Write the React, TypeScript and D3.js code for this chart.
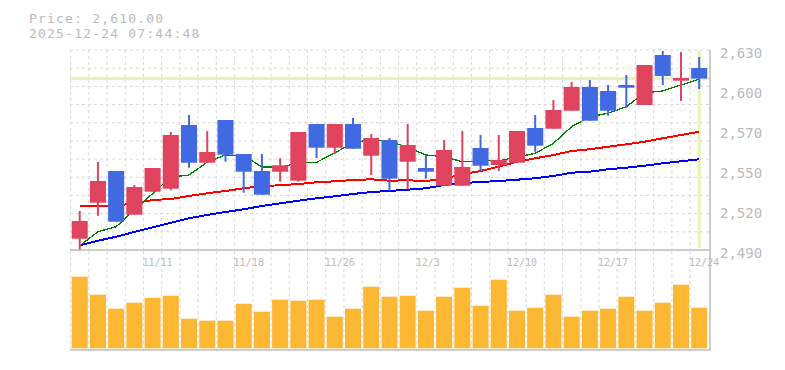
import React from "react";
import * as d3 from "d3";

const dates = [
  "11/5", "11/6", "11/7", "11/10", "11/11", "11/12", "11/13", "11/14", "11/17", "11/18",
  "11/19", "11/20", "11/21", "11/25", "11/26", "11/27", "11/28", "12/1", "12/2", "12/3",
  "12/4", "12/5", "12/8", "12/9", "12/10", "12/11", "12/12", "12/15", "12/16", "12/17",
  "12/18", "12/19", "12/22", "12/23", "12/24",
];
const opens = [
  2497.9, 2523.1, 2545.3, 2514.7, 2530.8, 2532.9, 2577.5, 2551.1, 2581.0, 2557.2,
  2545.3, 2544.8, 2538.5, 2578.2, 2561.6, 2578.2, 2556.0, 2567.0, 2551.8, 2547.4,
  2535.0, 2535.0, 2561.4, 2549.5, 2551.1, 2575.4, 2574.9, 2587.5, 2604.1, 2601.3,
  2605.5, 2591.5, 2626.5, 2608.5, 2617.4,
];
const highs = [
  2517.3, 2551.6, 2545.3, 2535.5, 2547.4, 2572.6, 2584.5, 2573.3, 2581.0, 2557.2,
  2557.2, 2554.2, 2572.6, 2578.2, 2578.2, 2582.4, 2571.2, 2568.4, 2578.2, 2556.3,
  2567.0, 2573.3, 2570.5, 2570.5, 2573.3, 2584.5, 2595.0, 2607.6, 2609.0, 2605.5,
  2612.5, 2619.5, 2629.3, 2628.6, 2625.1,
];
const lows = [
  2489.5, 2514.0, 2509.8, 2514.7, 2530.8, 2531.8, 2547.6, 2551.1, 2551.8, 2530.1,
  2528.7, 2537.8, 2537.8, 2554.4, 2557.0, 2560.9, 2542.5, 2531.5, 2532.5, 2539.9,
  2535.0, 2535.0, 2545.3, 2545.3, 2551.1, 2558.8, 2574.9, 2587.5, 2580.5, 2584.0,
  2589.6, 2591.5, 2605.5, 2594.3, 2602.7,
];
const closes = [
  2510.3, 2538.3, 2509.8, 2534.1, 2547.4, 2570.5, 2551.1, 2558.6, 2556.7, 2544.8,
  2528.7, 2549.3, 2572.6, 2561.6, 2578.2, 2560.9, 2568.4, 2539.9, 2563.5, 2544.8,
  2560.0, 2548.1, 2549.0, 2553.0, 2573.3, 2563.0, 2588.0, 2604.1, 2580.5, 2587.5,
  2603.6, 2619.5, 2611.8, 2610.4, 2610.0,
];
const volumes = [
  716, 536, 396, 456, 506, 526, 296, 276, 276, 446,
  366, 486, 476, 486, 316, 396, 616, 516, 526, 376,
  516, 606, 426, 686, 376, 406, 536, 316, 376, 396,
  516, 376, 456, 636, 406,
];
const ma5 = [
  2493.0, 2502.8, 2506.3, 2518.0, 2529.5, 2541.0, 2542.5, 2551.5, 2556.5, 2556.0,
  2548.2, 2547.8, 2551.0, 2551.4, 2558.0, 2565.0, 2567.5, 2566.0, 2562.0, 2556.5,
  2555.3, 2551.8, 2552.5, 2552.5, 2555.0, 2557.7, 2564.7, 2576.3, 2583.3, 2585.7,
  2590.3, 2600.1, 2601.3, 2605.5, 2609.5,
];
const ma25 = [
  2520.8, 2520.8, 2521.0, 2522.7, 2525.0, 2525.7, 2527.8, 2529.7, 2531.3, 2533.2,
  2534.8, 2535.3, 2536.2, 2537.4, 2538.1, 2539.0, 2539.5, 2538.5, 2538.8, 2538.3,
  2540.0, 2543.0, 2545.3, 2548.3, 2551.8, 2554.2, 2556.5, 2559.3, 2560.5, 2562.3,
  2564.0, 2565.8, 2568.2, 2570.5, 2572.8,
];
const ma75 = [
  2493.3, 2496.5, 2499.3, 2502.6, 2505.9, 2509.1, 2512.2, 2514.5, 2516.6, 2518.5,
  2520.8, 2522.7, 2524.5, 2526.2, 2527.6, 2529.2, 2530.6, 2531.3, 2532.2, 2533.2,
  2535.5, 2536.8, 2537.6, 2538.3, 2539.2, 2540.2, 2541.8, 2544.1, 2544.8, 2546.5,
  2547.6, 2549.0, 2550.7, 2552.1, 2553.5,
];
const labelEvery = 5;
const labelOffset = 4;
const priceMin = 2490;
const priceMax = 2630;
const priceTickStep = 28;
const cursorPrice = 2610;
const titleLines = ["Price: 2,610.00", "2025-12-24 07:44:48"];

const W = 785;
const H = 370;
const L = 70;
const R = 710;
const PT = 50;
const PB = 250;
const VT = 251;
const VB = 350;

const UP = "#e0435e";
const DOWN = "#4169e1";
const GRID = "#d9d9d9";
const AXIS = "#bdbdbd";
const TEXT = "#bbbbbb";
const CURSOR = "#e4f4b2";
const MONO = "'DejaVu Sans Mono', 'Liberation Mono', monospace";

export default function App() {
  const idx = d3.range(dates.length);
  const x = d3.scaleBand<number>().domain(idx).range([70.6, 708.3]).padding(0);
  const bw = x.bandwidth();
  const cx = (i: number) => (x(i) as number) + bw / 2;
  const body = bw * 0.88;
  const y = d3.scaleLinear().domain([priceMin, priceMax]).range([PB, PT]);
  const yv = d3.scaleLinear().domain([0, 800]).range([VB - 1.7, VB - 81.7]);

  const gridVals = d3.range(0, 12).map((k) => priceMin + (k * (priceMax - priceMin)) / 11);
  const labelVals = d3.range(priceMin, priceMax + 1, priceTickStep);
  const fmt = d3.format(",");

  const line = (arr: number[]) =>
    d3
      .line<number>()
      .x((_, i) => cx(i))
      .y((v) => y(v))(arr) as string;

  return (
    <svg width={W} height={H} style={{ display: "block", position: "absolute", left: 0, top: 0 }}>
      <rect width={W} height={H} fill="#fff" />
      {/* title */}
      {titleLines.map((t, i) => (
        <text
          key={i}
          x={29}
          y={22.8 + i * 15.4}
          fontFamily={MONO}
          fontSize={13}
          letterSpacing={1.2}
          fill={TEXT}
        >
          {t}
        </text>
      ))}
      {/* horizontal grid */}
      {gridVals.slice(1).map((v, i) => (
        <line key={"h" + i} x1={L} x2={R} y1={y(v)} y2={y(v)} stroke={GRID} strokeDasharray="3,3" />
      ))}
      {/* vertical grid, price and volume */}
      {idx.map((i) => (
        <g key={"v" + i}>
          <line x1={x(i)} x2={x(i)} y1={PT} y2={PB} stroke={GRID} strokeDasharray="3,3" />
          <line x1={x(i)} x2={x(i)} y1={VT} y2={VB} stroke={GRID} strokeDasharray="3,3" />
        </g>
      ))}
      {/* cursor */}
      <line x1={L} x2={R} y1={y(cursorPrice)} y2={y(cursorPrice)} stroke={CURSOR} strokeWidth={3} />
      <line x1={cx(dates.length - 1)} x2={cx(dates.length - 1)} y1={PT + 1} y2={PB - 2} stroke={CURSOR} strokeWidth={3} />
      {/* moving averages */}
      <path d={line(ma75)} fill="none" stroke="#0000ff" strokeWidth={2} shapeRendering="crispEdges" />
      <path d={line(ma25)} fill="none" stroke="#ff0000" strokeWidth={2} shapeRendering="crispEdges" />
      <path d={line(ma5)} fill="none" stroke="#008000" strokeWidth={1.3} shapeRendering="crispEdges" />
      {/* candles */}
      {idx.map((i) => {
        const o = opens[i];
        const c = closes[i];
        const col = c >= o ? UP : DOWN;
        const top = y(Math.max(o, c));
        const bot = y(Math.min(o, c));
        return (
          <g key={"c" + i}>
            <line x1={cx(i)} x2={cx(i)} y1={y(highs[i])} y2={y(lows[i])} stroke={col} strokeWidth={2} />
            <rect x={cx(i) - body / 2} y={top} width={body} height={Math.max(2, bot - top)} fill={col} />
          </g>
        );
      })}
      {/* volume bars */}
      {idx.map((i) => (
        <rect
          key={"vb" + i}
          x={cx(i) - body / 2}
          y={yv(volumes[i])}
          width={body}
          height={yv(0) - yv(volumes[i])}
          fill="#fdb833"
        />
      ))}
      {/* axes frame */}
      <line x1={L} x2={R + 0.75} y1={PB} y2={PB} stroke={AXIS} strokeWidth={1.5} />
      <line x1={R} x2={R} y1={PT} y2={PB} stroke={AXIS} strokeWidth={1.5} />
      <line x1={L} x2={R + 0.75} y1={VB} y2={VB} stroke={AXIS} strokeWidth={1.5} />
      <line x1={R} x2={R} y1={VT} y2={VB} stroke={AXIS} strokeWidth={1.5} />
      {/* price labels */}
      {labelVals.map((v) => (
        <text key={"yl" + v} x={720} y={y(v) + 8} fontFamily={MONO} fontSize={14} fill={TEXT}>
          {fmt(Math.round(v / 10) * 10)}
        </text>
      ))}
      {/* date labels */}
      {idx
        .filter((i) => i % labelEvery === labelOffset)
        .map((i) => (
          <text key={"xl" + i} x={(x(i) as number) - 1} y={265.7} fontFamily={MONO} fontSize={10} fill={TEXT}>
            {dates[i]}
          </text>
        ))}
    </svg>
  );
}
